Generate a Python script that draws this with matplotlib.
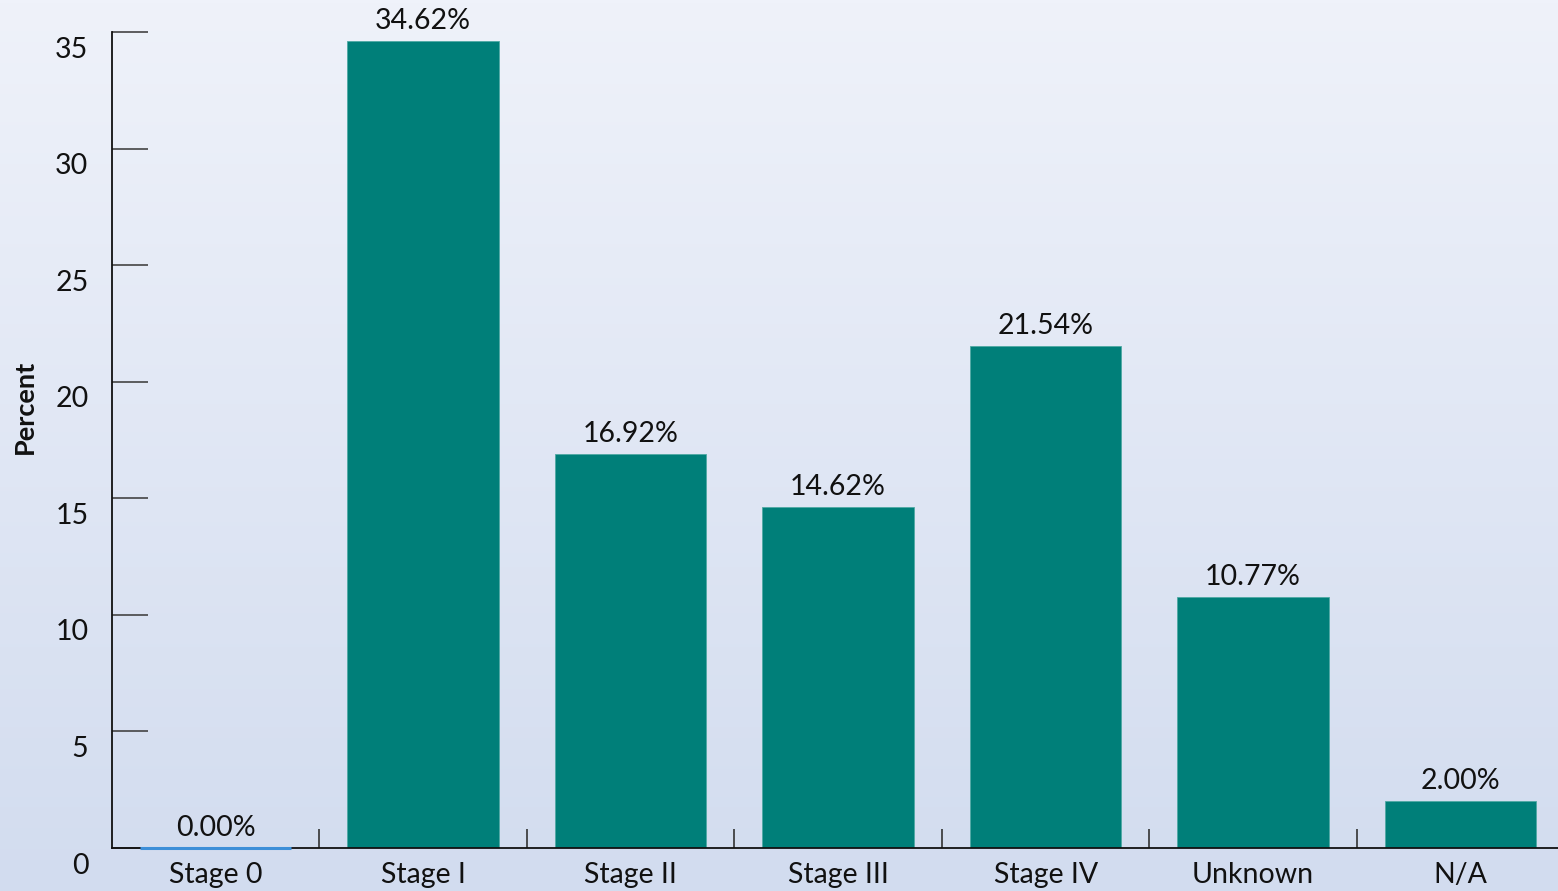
import numpy as np
import matplotlib
matplotlib.use('Agg')
import matplotlib.pyplot as plt
from matplotlib.colors import LinearSegmentedColormap
from matplotlib.ticker import FixedLocator
import matplotlib.transforms as mtransforms

# Stage distribution, percent of cases.
stages = ['Stage 0', 'Stage I', 'Stage II', 'Stage III', 'Stage IV', 'Unknown', 'N/A']
percents = [0.00, 34.62, 16.92, 14.62, 21.54, 10.77, 2.00]

TEAL = '#007f79'
ZERO_BLUE = '#3d8fd8'
FONT = 'Lato'

plt.rcParams['font.family'] = [FONT, 'DejaVu Sans']

fig = plt.figure(figsize=(15.58, 8.91), dpi=100)

# Soft vertical gradient behind everything.
bg = fig.add_axes([0, 0, 1, 1], zorder=-10)
grad = LinearSegmentedColormap.from_list('bg', ['#d2dcef', '#eff2fa'])
bg.imshow(np.linspace(0, 1, 256).reshape(-1, 1), aspect='auto', cmap=grad,
          origin='lower', extent=[0, 1, 0, 1])
bg.axis('off')

ax = fig.add_axes([112 / 1558, 43 / 891, 1 - 112 / 1558, 816 / 891])
ax.patch.set_alpha(0)

x = np.arange(len(stages))
bars = ax.bar(x, percents, width=0.73, color=TEAL, edgecolor='#4fa9a4',
              linewidth=0.6)
# empty categories still get a thin marker line on the baseline
for b, v in zip(bars, percents):
    if v == 0:
        b.set_edgecolor(ZERO_BLUE)
        b.set_linewidth(2.2)
        b.set_zorder(3)
        b.set_clip_on(False)

for xi, v in zip(x, percents):
    ax.annotate(f'{v:.2f}%', (xi, v), xytext=(0, 5), textcoords='offset points',
                ha='center', va='bottom', fontsize=20.5, color='#111111')

ax.set_xlim(-0.5, 6.47)
ax.set_ylim(0, 35)

for side in ('top', 'right'):
    ax.spines[side].set_visible(False)
for side in ('left', 'bottom'):
    ax.spines[side].set_linewidth(1.3)
    ax.spines[side].set_color('#111111')

ax.set_xticks(x)
ax.set_xticklabels(stages, fontsize=20.5, color='#111111')
ax.tick_params(axis='x', which='major', length=0, pad=10)
ax.xaxis.set_minor_locator(FixedLocator(x[:-1] + 0.5))
ax.tick_params(axis='x', which='minor', direction='in', length=14, width=1.2,
               color='#333333')

ax.set_yticks(range(0, 36, 5))
ax.tick_params(axis='y', direction='in', length=26, width=1.2, color='#444444',
               labelsize=20.5, labelcolor='#111111', pad=17)
shift = mtransforms.ScaledTranslation(0, -15 / 100, fig.dpi_scale_trans)
for lbl in ax.get_yticklabels():
    lbl.set_transform(lbl.get_transform() + shift)

fig.text(25 / 1558, 1 - 407 / 891, 'Percent', rotation=90, ha='center',
         va='center', fontsize=19.5, fontweight='bold', color='#111111')

fig.savefig('out.png', dpi=100)
